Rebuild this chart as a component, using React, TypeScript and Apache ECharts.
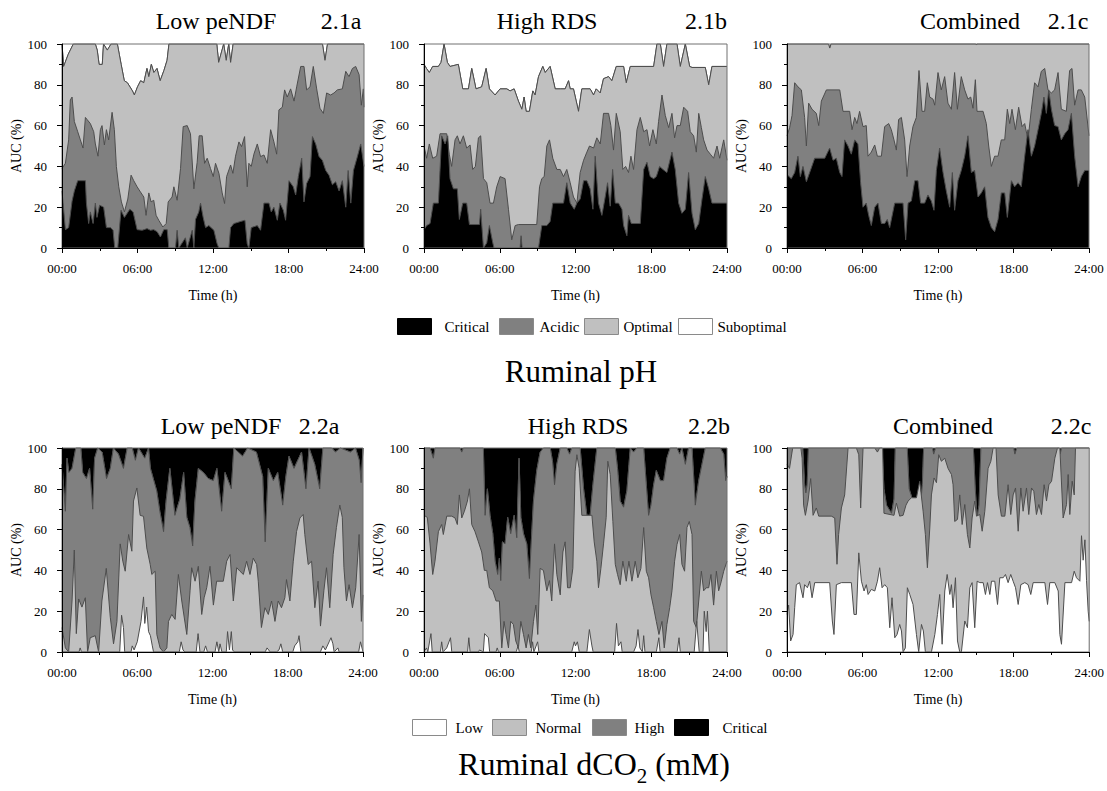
import React, { useEffect, useRef } from 'react';
import * as echarts from 'echarts';

const FONT = "'Liberation Serif', 'Times New Roman', serif";

// ---------- tick labels ----------
const timeTickLabels = ['00:00', '06:00', '12:00', '18:00', '24:00'];

// ---------- Ruminal pH: upper edge (cumulative AUC %) of each stacked class, [hour, %] ----------
const ph_lowPeNDF_critical = [[0,28],[0.27,9],[0.53,10],[0.8,23],[0.98,28],[1.25,33],[1.86,33],[1.94,22],[2.12,12],[2.25,17.7],[2.47,12],[2.65,22],[2.78,15],[2.99,21],[3.31,20],[3.53,10],[3.85,10],[4.06,8.7],[4.19,0],[4.43,0],[4.69,18.5],[4.96,15],[5.39,19],[5.65,17.7],[5.97,9],[6.37,8.7],[6.76,9.5],[7.03,8.7],[7.29,9],[7.56,8],[7.82,5.4],[8.09,9],[8.36,9],[8.49,0],[9.02,0],[9.15,8.7],[9.28,0],[9.81,5],[9.95,0],[10.35,8.7],[10.48,0],[10.61,14],[10.87,17.7],[11.01,22],[11.22,15],[11.41,10],[11.67,11],[12.07,8.7],[12.33,2],[12.47,0],[13.26,0],[13.4,10],[13.66,12],[14.19,13],[14.54,13.6],[14.72,2],[14.85,0],[15.04,10],[15.52,11],[15.78,8.7],[16.05,22],[16.45,22],[16.63,17.7],[16.84,20],[17.11,13.6],[17.32,22],[17.59,18.5],[17.77,13.6],[18.04,33],[18.38,30],[18.57,26],[18.78,35],[19.05,44],[19.23,22.6],[19.44,31.6],[19.71,35],[19.9,54.6],[20.16,51],[20.43,44.8],[20.69,43],[20.96,38],[21.22,35.7],[21.49,31],[21.75,32.5],[22.02,28],[22.28,33],[22.55,20],[22.74,38],[22.95,22],[23.16,38],[23.48,45],[23.74,51],[24,40]];
const ph_lowPeNDF_acidic = [[0,39],[0.27,41.5],[0.53,53],[0.66,72.6],[0.8,74],[0.98,62],[1.25,57],[1.46,53],[1.67,49],[1.86,64],[1.99,63],[2.25,61],[2.52,57],[2.65,51],[2.86,45],[3.05,58],[3.18,60],[3.37,50.5],[3.53,58],[3.71,53],[3.98,66.5],[4.16,58],[4.32,40],[4.51,30],[4.72,22.6],[4.96,17.7],[5.23,24],[5.49,35.7],[5.7,33],[5.97,30],[6.23,27.5],[6.5,25],[6.68,16],[6.9,27],[7.08,22.6],[7.29,23.4],[7.48,16],[7.69,13.6],[8.01,10.3],[8.28,12],[8.44,22.6],[8.75,25],[8.89,30],[9.15,23.4],[9.42,39],[9.63,59.5],[9.95,60],[10.21,56],[10.48,29],[10.74,42],[10.9,55],[11.14,55],[11.33,41.5],[11.54,44],[11.8,39],[12.02,35],[12.2,41.5],[12.47,36.6],[12.73,27],[12.92,21.8],[13.08,35],[13.4,40.7],[13.58,36.6],[13.79,45],[14.06,52],[14.27,49.7],[14.51,54.6],[14.72,30],[14.85,41.5],[15.04,40],[15.25,46],[15.52,51],[15.78,44.8],[16.05,45.6],[16.31,41.5],[16.58,58],[16.84,52],[17.06,46],[17.24,67.7],[17.51,69],[17.69,77.5],[17.9,74],[18.17,78],[18.44,72],[18.65,79],[18.97,89],[19.23,89],[19.44,77.5],[19.71,79],[19.97,89],[20.24,78],[20.5,68.5],[20.77,66],[21.03,76],[21.35,75],[21.62,76],[21.88,77.5],[22.28,78],[22.55,86.6],[22.81,84],[23.08,88],[23.34,89],[23.61,85],[23.79,70],[23.95,78],[24,69]];
const ph_lowPeNDF_optimal = [[0,100],[0.13,89],[0.5,95],[0.9,100],[2.65,100],[2.8,97],[2.95,90],[3.2,90],[3.3,100],[3.6,97],[3.9,100],[4.4,100],[4.55,95],[4.7,90],[4.95,82],[5.2,81],[5.6,77],[5.75,75],[6.0,79],[6.25,82],[6.5,81],[6.75,88],[6.9,84],[7.1,90],[7.3,86],[7.55,88],[7.8,82],[8.1,87],[8.35,92],[8.5,100],[12.3,100],[12.45,91],[12.85,100],[13.05,92],[13.25,100],[13.4,91],[13.6,100],[20.7,100],[20.9,92],[21.1,100],[24,100]];

const ph_highRDS_critical = [[0,9],[0.21,11],[0.48,12],[0.74,22],[1.14,22],[1.4,55],[1.67,51],[1.88,55],[2.06,34],[2.33,29],[2.64,29],[2.8,14],[3.07,22],[3.38,22],[3.6,11.5],[4.39,11.5],[4.49,19],[4.71,0],[4.97,2.5],[5.18,11],[5.45,2.5],[5.55,0],[7.61,0],[7.69,6],[7.77,0],[9.07,0],[9.33,11],[9.73,11],[9.99,13],[10.2,22],[11.05,22],[11.31,32],[11.58,22],[11.9,19],[12.11,22],[12.37,24],[12.64,33],[12.9,33],[13.16,29],[13.38,19],[13.56,45],[13.82,22],[14.09,16],[14.35,25],[14.54,32],[14.75,20.5],[14.94,38.5],[15.15,22],[15.41,22],[15.68,19],[15.81,11],[16.07,6],[16.2,16],[16.42,12],[17.13,12],[17.4,38.5],[17.66,42],[17.92,35],[18.19,34],[18.4,35],[18.66,40],[18.93,38.5],[19.24,37],[19.64,47],[19.9,38.5],[20.17,22],[20.43,17],[20.7,19],[20.96,37],[21.23,17],[21.49,9],[21.76,12],[22.02,24],[22.28,35],[22.55,29],[22.81,22],[24,22]];
const ph_highRDS_acidic = [[0,50],[0.21,44],[0.42,51],[0.69,44],[1.0,45],[1.27,56],[1.8,56],[2.0,46],[2.19,40],[2.46,53],[2.64,55],[2.85,51],[3.12,55],[3.38,49],[3.65,50.5],[3.86,38.5],[4.07,40],[4.31,54],[4.49,55],[4.71,34],[4.97,32],[5.23,22],[5.5,22],[5.76,30],[6.03,35],[6.42,34],[6.69,19],[6.95,4],[7.22,11],[7.48,11.5],[8.93,11.5],[9.15,30],[9.33,34],[9.52,35],[9.73,50],[9.94,53],[10.2,44],[10.52,38.5],[10.79,38.5],[11.05,35],[11.31,38.5],[11.58,32],[11.84,25],[12.11,22],[12.37,37],[12.64,43],[12.9,47],[13.11,50],[13.43,49],[13.69,54],[13.96,51],[14.22,66],[14.62,66],[14.8,60],[15.01,48],[15.23,66],[15.54,57],[15.75,38.5],[15.97,40],[16.2,37],[16.39,45],[16.6,38.5],[16.87,58],[17.13,64],[17.4,57],[17.66,58],[17.87,50],[18.13,58],[18.4,51],[18.58,62],[18.85,75],[19.11,65],[19.38,59],[19.64,66],[19.85,54],[20.04,60],[20.3,60],[20.57,69],[20.88,67],[21.09,57],[21.36,55],[21.57,47],[21.76,66],[21.97,59],[22.15,53],[22.42,48],[22.68,46],[22.94,44],[23.21,50],[23.42,44],[23.74,53],[24,43]];
const ph_highRDS_optimal = [[0,90],[0.2,88],[0.42,86],[0.69,89],[1.14,89],[1.35,91],[1.59,100],[1.85,91],[2.06,89],[2.72,90],[3.07,78],[3.52,78],[3.78,88],[4.12,78],[4.57,79],[4.92,88],[5.18,78],[5.63,75],[6.03,78],[6.56,78],[6.82,77],[7.14,78],[7.48,72],[7.75,68],[7.93,74],[8.09,67],[8.35,67],[8.62,77],[8.8,75],[9.07,84],[9.41,89],[9.6,86],[9.99,89],[10.39,78],[10.79,78],[11.18,78],[11.45,82],[11.58,78],[11.84,78],[12.24,67],[12.5,78],[13.16,78],[13.43,75],[13.64,78],[13.96,76],[14.22,83],[14.62,84],[14.88,82],[15.23,89],[15.81,89],[16.02,81],[16.34,89],[18.19,89],[18.45,100],[18.72,100],[18.98,89],[19.24,100],[20.04,100],[20.3,89],[20.7,100],[21.04,89],[21.23,88.5],[22.28,88.5],[22.55,80],[22.81,89],[24,89]];

const ph_combined_critical = [[0,36],[0.34,34],[0.61,37],[0.87,45],[1.06,35],[1.27,40],[1.54,32.5],[1.8,37],[2.2,44],[3.0,44],[3.39,49],[3.66,43],[3.92,44],[4.19,37],[4.37,35],[4.58,53],[4.85,50],[5.11,46],[5.38,53],[5.64,51],[5.85,32],[6.04,20],[6.3,22],[6.49,16],[6.7,11],[6.97,20],[7.23,22],[7.5,12],[7.76,12],[7.97,14],[8.16,10],[8.56,22],[9.22,22],[9.43,4],[9.62,22],[9.88,23],[10.15,33],[10.41,33],[10.62,22],[10.94,22],[11.2,26],[11.47,23],[11.68,18.5],[11.87,38],[12.13,49],[12.4,37],[12.66,28],[12.93,20],[13.14,37],[13.32,18.5],[13.59,33],[13.85,38],[14.12,45],[14.38,55],[14.65,37],[14.91,38],[15.18,25],[15.44,27],[15.71,30],[15.97,15],[16.24,10],[16.5,8],[16.77,14],[17.03,27],[17.3,27],[17.51,15],[17.83,33],[18.09,30],[18.36,32],[18.62,30],[18.89,45],[19.15,58],[19.42,45],[19.68,50],[19.95,58],[20.21,66],[20.42,74],[20.61,66],[20.8,77.5],[21.01,68],[21.27,60],[21.54,59.5],[21.8,53],[22.07,56],[22.33,58],[22.6,66],[22.86,45],[23.13,30],[23.39,35],[23.66,38],[24,38]];
const ph_combined_acidic = [[0,55],[0.21,59],[0.4,65],[0.61,81],[0.87,79],[1.14,77.5],[1.4,64],[1.54,50],[1.72,71],[1.99,68],[2.33,66],[2.52,60],[2.73,72],[3.13,77.5],[4.19,77.5],[4.45,67],[4.98,67],[5.17,58],[5.38,64],[5.56,61],[5.77,67],[6.04,59.5],[6.3,60],[6.44,45],[6.7,47],[6.97,50.5],[7.18,45],[7.5,45],[7.76,59.5],[8.08,61],[8.29,58],[8.5,53],[8.69,48],[8.87,63],[9.09,64],[9.35,53],[9.54,35],[9.75,50],[10.01,59.5],[10.28,64],[10.49,87],[10.73,67],[10.94,67],[11.15,81],[11.34,74],[11.6,73],[11.74,70],[12.0,86],[12.26,77.5],[12.53,84],[12.79,71],[13.06,68],[13.32,86],[13.54,68],[13.85,84],[14.12,77.5],[14.38,73],[14.6,74],[14.78,68.5],[14.97,82.5],[15.1,67],[15.58,67],[15.84,61],[16.03,50],[16.24,40],[16.5,45],[16.77,45],[17.03,53],[17.3,53],[17.51,68],[17.7,61],[17.88,68],[18.15,58],[18.41,69],[18.68,59.5],[18.89,61],[19.15,53],[19.42,68],[19.68,81],[19.95,79],[20.21,86.6],[20.48,88],[20.74,77.5],[21.01,76],[21.27,77.5],[21.54,86],[21.8,68],[22.2,67],[22.46,87],[22.65,88],[22.86,70],[23.13,77.5],[23.39,77.5],[23.66,74],[24,55]];
const ph_combined_optimal = [[0,100],[3.3,100],[3.4,98],[3.5,100],[15.0,100],[15.05,99.5],[15.1,100],[24,100]];

// ---------- Ruminal dCO2: upper edge (cumulative AUC %) of each stacked class, [hour, %] ----------
const co2_lowPeNDF_low = [[0,0],[1.35,0],[1.45,2],[1.55,0],[4.6,0],[4.75,18],[4.9,12],[5.0,0],[5.5,0],[5.6,3],[5.75,1],[6.0,5],[6.3,15],[6.5,27],[6.6,14],[6.75,22],[6.9,10],[7.05,8],[7.2,3],[7.3,0],[9.35,0],[9.5,5],[9.65,1],[9.8,0],[10.7,0],[10.85,9],[11.0,0],[11.3,0],[11.45,3],[11.6,0],[12.2,0],[12.35,5],[12.5,0],[12.6,4],[12.75,0],[13.1,0],[13.2,10],[13.35,1],[13.5,10],[13.6,1],[13.75,0],[16.2,0],[16.35,2],[16.6,0],[17.1,0],[17.3,1],[17.45,4],[17.6,0],[18.4,0],[18.55,3],[18.8,5],[18.9,8],[19.05,0],[20.6,0],[20.8,3],[21.0,1],[21.3,5],[21.45,7],[21.6,4],[21.7,0],[22.0,2],[22.1,0],[23.65,0],[23.8,5],[24,0]];
const co2_lowPeNDF_normal = [[0,12],[0.27,2],[0.53,0],[0.8,25],[0.98,50],[1.14,9],[1.33,26],[1.59,22],[1.86,26.6],[2.04,0],[2.25,7],[2.65,8],[2.92,0],[3.18,25],[3.53,41],[3.85,17],[4.11,4],[4.38,15],[4.64,53],[4.85,44.5],[5.04,39.6],[5.31,57.6],[5.57,49.4],[5.7,74],[5.97,80.4],[6.23,67],[6.5,66.5],[6.76,51],[7.03,43],[7.16,38],[7.43,39.6],[7.56,8.6],[7.82,2],[8.09,0],[8.36,2],[8.49,15],[8.75,18.4],[9.02,16],[9.28,38],[9.55,25],[9.95,8.6],[10.21,30],[10.34,41.3],[10.61,34.7],[10.87,42],[11.14,18.4],[11.33,26.6],[11.54,31.5],[11.8,42],[12.07,23],[12.33,34.7],[12.6,34.7],[12.86,34.7],[13.13,44.5],[13.4,47.8],[13.66,25],[13.93,41.3],[14.19,39.6],[14.46,38],[14.72,44.5],[14.99,38],[15.25,46],[15.52,42.9],[15.65,34.7],[15.9,12],[16.18,21.7],[16.45,18.4],[16.71,25],[16.98,15],[17.24,25],[17.5,21.7],[17.77,26.6],[17.9,35.5],[18.17,25],[18.44,44.5],[18.7,59],[18.97,65.7],[19.1,66.5],[19.23,67.4],[19.36,57.6],[19.63,42.9],[19.9,44.5],[20.16,21.7],[20.42,34.7],[20.61,12.7],[20.88,30],[21.09,41.3],[21.35,21.7],[21.62,47.8],[21.88,61],[22.15,72],[22.35,66],[22.48,41.3],[22.68,25],[22.89,33],[23.16,21.7],[23.42,31.5],[23.69,57.6],[23.87,15],[24,28]];
const co2_lowPeNDF_high = [[0,92],[0.27,69],[0.4,95],[0.55,88],[0.8,90],[1.1,100],[1.5,100],[1.65,88],[1.95,85],[2.2,90],[2.45,70],[2.6,95],[2.85,100],[3.2,98],[3.55,85],[3.85,90],[4.1,100],[4.5,97],[4.9,90],[5.2,100],[5.6,100],[5.85,94],[6.1,100],[6.6,95],[6.9,100],[7.05,90],[7.55,79],[7.8,69],[8.1,59],[8.3,74],[8.6,90],[9.0,67],[9.4,75],[9.7,88],[9.95,66],[10.2,61],[10.42,52],[10.6,74],[10.87,90],[11.27,88],[11.67,85],[12.07,84],[12.35,90],[12.73,69],[13.0,88],[13.5,80],[13.7,100],[14.4,96],[14.8,100],[15.5,98],[16.0,86],[16.2,54],[16.45,90],[16.85,84],[17.2,88],[17.6,72],[17.85,86],[18.1,96],[18.5,90],[19.1,98],[19.45,80],[19.7,100],[20.15,92],[20.55,80],[20.8,100],[21.5,100],[21.8,98],[22.2,100],[23.0,98],[23.4,100],[23.7,94],[23.85,83],[24,100]];

const co2_highRDS_low = [[0,0],[0.2,2],[0.3,0],[0.55,9],[0.65,0],[1.3,0],[1.4,5],[1.5,0],[1.8,2],[2.1,7],[2.2,0],[3.45,0],[3.55,7],[3.65,0],[4.3,0],[4.4,1],[4.7,0],[4.8,9],[5.1,7],[5.2,0],[5.7,0],[5.8,2],[5.9,0],[7.3,0],[7.45,3],[7.55,0],[8.5,0],[8.6,5],[8.7,0],[9.0,5],[9.1,0],[11.7,0],[11.9,5],[12.0,3],[12.15,5],[12.3,0],[12.9,0],[13.1,11],[13.3,3],[13.4,0],[15.1,0],[15.25,14],[15.4,3],[15.6,5],[15.7,0],[16.6,0],[16.8,3],[16.95,11],[17.1,2],[17.3,0],[17.4,8],[17.5,0],[18.4,0],[18.6,7],[18.7,0],[20.05,0],[20.2,7],[20.3,0],[21.4,0],[21.6,15],[21.8,0],[22.1,0],[22.2,20],[22.35,10],[22.45,20],[22.6,0],[24,0]];
const co2_highRDS_normal = [[0,67],[0.26,66],[0.48,53],[0.69,38],[0.87,44.5],[1.14,59],[1.4,62.5],[1.53,57.6],[1.8,66.6],[2.19,66.6],[2.46,65.7],[2.64,62.5],[2.8,77],[2.99,65.7],[3.2,69],[3.44,74],[3.6,80],[3.78,62.5],[4.04,59],[4.31,54],[4.57,49],[4.78,40],[4.97,40],[5.18,31.5],[5.45,30],[5.71,25],[5.97,25],[6.16,2],[6.34,15],[6.5,8.6],[6.69,2],[6.87,15],[7.08,13.5],[7.27,5.4],[7.48,2],[7.67,15],[7.88,8.6],[8.09,2],[8.27,8.6],[8.46,2],[8.67,15],[8.86,23],[9.01,8.6],[9.2,41],[9.46,40],[9.73,30],[9.94,35],[10.12,25],[10.34,53],[10.52,38],[10.79,28],[11.0,49],[11.18,54],[11.37,31.5],[11.58,31.5],[11.79,41],[11.97,88.6],[12.11,96.7],[12.29,90],[12.5,67],[13.3,67],[13.48,54],[13.69,44.5],[13.82,31.5],[14.01,41],[14.22,53],[14.43,66],[14.56,93.5],[14.75,87],[14.96,64],[15.15,43],[15.33,38],[15.54,33],[15.75,44.5],[16.02,34.7],[16.23,44.5],[16.47,34.7],[16.73,44.5],[16.94,36.4],[17.18,41],[17.4,61],[17.61,39.6],[17.79,36.4],[17.98,28],[18.19,21.7],[18.4,15],[18.61,8.6],[18.85,15],[19.03,2],[19.24,13.5],[19.46,21.7],[19.64,30],[19.85,44.5],[20.04,52.7],[20.25,57.6],[20.43,43],[20.64,39.6],[20.83,61],[21.01,64],[21.23,57.6],[21.36,15],[21.57,12],[21.76,25],[21.97,39.6],[22.15,30],[22.36,31.5],[22.55,31.5],[22.73,38],[22.94,23],[23.16,39.6],[23.34,30],[23.55,34.7],[23.74,39.6],[24,44.5]];
const co2_highRDS_high = [[0,100],[0.48,100],[0.74,95],[0.87,100],[2.85,100],[2.99,98],[3.12,100],[4.7,100],[4.84,67],[5.02,80],[5.23,67],[5.45,58],[5.63,44.5],[5.84,38],[5.97,46],[6.08,35],[6.21,54],[6.42,53],[6.63,66],[6.87,58],[7.14,67],[7.35,56],[7.53,95],[7.67,66],[7.88,58],[8.14,53],[8.35,36],[8.54,59],[8.67,74],[8.93,89],[9.2,98],[9.46,100],[10.0,100],[10.18,93.5],[10.34,82],[10.52,92],[10.79,100],[11.31,100],[11.53,97],[11.71,100],[12.37,100],[12.64,80],[12.9,67],[13.16,67],[13.38,82],[13.69,100],[15.15,100],[15.33,90],[15.54,74],[15.81,71],[16.07,79],[16.34,100],[16.6,98],[16.87,100],[17.4,100],[17.61,82],[17.79,67],[17.98,72],[18.19,82],[18.4,89],[18.72,84],[18.98,84],[19.24,95],[19.5,100],[20.04,100],[20.25,97],[20.43,100],[20.7,92],[20.96,100],[21.23,100],[21.49,72],[21.76,84],[22.02,92],[22.28,100],[23.47,100],[23.74,97],[23.9,84],[24,86]];

const co2_combined_low = [[0,18.4],[0.13,23],[0.29,5.4],[0.48,8.6],[0.61,21.7],[0.74,33],[1.0,34],[1.27,26.6],[1.4,33],[1.62,31.5],[1.8,34.7],[1.99,26.6],[2.2,34],[3.39,34],[3.6,15.2],[3.73,8.6],[3.92,33],[4.32,34],[5.11,34],[5.32,18.4],[5.51,18.4],[5.7,48.6],[5.91,34.7],[6.12,29.9],[6.3,33],[6.44,28.2],[6.7,30.7],[6.97,29.9],[7.18,34.7],[7.36,41.3],[7.55,31.5],[7.76,33],[7.97,31.5],[8.16,11.9],[8.34,26.6],[8.56,7],[8.74,8.6],[8.95,13.5],[9.09,10.3],[9.22,0],[9.4,2],[9.56,31.5],[9.75,28.2],[10.01,23.3],[10.28,8.6],[10.46,0],[10.68,13.5],[10.83,10.3],[10.99,0],[11.47,0],[11.74,8.6],[11.95,18.4],[12.13,28.2],[12.32,3.8],[12.53,29.9],[12.72,38],[12.93,28.2],[13.06,33],[13.19,21.7],[13.38,36.4],[13.54,5.4],[13.72,0],[13.85,0],[14.12,15.2],[14.33,11.9],[14.52,31.5],[14.7,34],[14.91,11.9],[15.1,34.7],[15.31,34],[15.58,34],[15.76,28.2],[15.92,34],[16.11,28.2],[16.24,34.7],[16.5,34.7],[16.72,23.3],[16.9,36.4],[17.17,36.4],[17.35,38],[17.56,34],[17.77,38],[17.96,34.7],[18.15,31.5],[18.36,23.3],[18.57,33],[18.89,34],[19.15,33],[19.36,28.2],[19.55,34],[20.48,34],[20.69,23.3],[20.87,34],[21.27,34],[21.54,29.9],[21.67,8.6],[21.8,3.8],[22.07,34],[22.6,34],[22.81,39.6],[22.99,36.4],[23.26,34.7],[23.39,57],[23.52,45],[23.66,55],[23.79,35],[23.92,20],[24,15]];
const co2_combined_normal = [[0,92],[0.2,90],[0.45,100],[1.1,100],[1.2,95],[1.32,72],[1.46,67],[1.67,74],[1.88,85],[2.07,67],[2.33,70.6],[2.52,66.6],[3.52,66.6],[3.79,65.7],[3.97,43],[4.1,57.6],[4.32,70.6],[4.58,77],[4.85,100],[5.51,100],[5.7,96.7],[5.85,70.6],[6.04,100],[6.97,100],[7.18,98],[7.36,100],[7.6,100],[7.7,68],[8.5,67],[8.69,73],[8.95,66.6],[9.22,67],[9.45,72],[9.62,74],[9.88,75.6],[10.28,75.6],[10.54,83.7],[10.81,69],[10.99,57.6],[11.15,41.3],[11.34,60.8],[11.47,77],[11.68,85.3],[11.87,83],[12.05,96.7],[12.26,93.5],[12.53,95],[12.79,90],[13.06,87],[13.19,82],[13.32,64],[13.54,65],[13.72,77],[13.91,62.5],[14.12,72.3],[14.33,57.6],[14.52,51],[14.7,65.7],[14.91,74],[15.05,66.6],[15.31,67.4],[15.5,59.2],[15.71,69],[15.97,90],[16.19,93.5],[16.37,100],[16.6,100],[16.77,77],[17.03,66.6],[17.3,66.6],[17.56,82],[17.77,67.4],[17.96,77],[18.15,80.4],[18.36,59.2],[18.57,80.4],[18.75,69],[19.02,80.4],[19.2,67.4],[19.42,80.4],[19.6,78.8],[19.81,67.4],[20.0,72.3],[20.21,67.4],[20.42,82],[20.61,74],[20.8,82],[21.01,83.7],[21.27,95],[21.48,100],[21.67,100],[21.93,65.7],[22.2,72.3],[22.33,87],[22.46,67.4],[22.65,83.7],[22.81,77],[22.91,100],[24,100]];
const co2_combined_high = [[0,100],[1.25,100],[1.4,82],[1.5,78],[1.6,82],[1.7,100],[7.55,100],[7.7,80],[7.9,72],[8.1,70],[8.3,68],[8.5,75],[8.6,100],[9.55,100],[9.7,80],[9.95,75],[10.4,75],[10.6,72],[10.75,82],[10.85,100],[11.55,100],[11.65,97],[11.8,100],[14.8,100],[14.95,80],[15.1,66],[15.25,72],[15.4,100],[18.0,100],[18.1,97],[18.25,100],[21.6,100],[21.7,97],[21.8,100],[24,100]];

// ---------- texts ----------
const panelTitles = ['Low peNDF', 'High RDS', 'Combined', 'Low peNDF', 'High RDS', 'Combined'];
const panelTags = ['2.1a', '2.1b', '2.1c', '2.2a', '2.2b', '2.2c'];
const phClasses = ['Critical', 'Acidic', 'Optimal', 'Suboptimal'];
const co2Classes = ['Low', 'Normal', 'High', 'Critical'];

const C_BLACK = '#000000';
const C_DARK = '#808080';
const C_LIGHT = '#c0c0c0';
const C_WHITE = '#ffffff';
const EDGE = '#4d4d4d';

type Pts = number[][];

const panels = [
  { kind: 'ph', edges: [ph_lowPeNDF_critical, ph_lowPeNDF_acidic, ph_lowPeNDF_optimal], grid: { left: 62, top: 44, width: 302, height: 204 }, title: [216, 21], tag: [341, 21] },
  { kind: 'ph', edges: [ph_highRDS_critical, ph_highRDS_acidic, ph_highRDS_optimal], grid: { left: 424, top: 44, width: 303, height: 204 }, title: [547, 21], tag: [706, 21] },
  { kind: 'ph', edges: [ph_combined_critical, ph_combined_acidic, ph_combined_optimal], grid: { left: 787, top: 44, width: 302, height: 204 }, title: [970, 21], tag: [1068, 21] },
  { kind: 'co2', edges: [co2_lowPeNDF_low, co2_lowPeNDF_normal, co2_lowPeNDF_high], grid: { left: 62, top: 448, width: 301, height: 204 }, title: [221, 426], tag: [319, 426] },
  { kind: 'co2', edges: [co2_highRDS_low, co2_highRDS_normal, co2_highRDS_high], grid: { left: 424, top: 448, width: 303, height: 204 }, title: [578, 426], tag: [709, 426] },
  { kind: 'co2', edges: [co2_combined_low, co2_combined_normal, co2_combined_high], grid: { left: 787, top: 448, width: 303, height: 204 }, title: [943, 426], tag: [1071, 426] },
];

function areaSeries(name: string, data: Pts, idx: number, color: string, origin: 'start' | 'end', z: number) {
  return {
    type: 'line',
    name,
    xAxisIndex: idx,
    yAxisIndex: idx,
    data,
    color,
    symbol: 'none',
    silent: true,
    z,
    lineStyle: { color: EDGE, width: 1 },
    areaStyle: { color, opacity: 1, origin },
  };
}

function buildOption() {
  const grid: any[] = [];
  const xAxis: any[] = [];
  const yAxis: any[] = [];
  const series: any[] = [];
  const graphic: any[] = [];

  panels.forEach((p, i) => {
    grid.push({ ...p.grid, show: true, borderColor: '#707070', borderWidth: 1, backgroundColor: 'transparent', z: 5 });
    xAxis.push({
      gridIndex: i, type: 'value', min: 0, max: 24, interval: 6, z: 10,
      axisLine: { show: true, onZero: false, lineStyle: { color: '#000', width: 1 } },
      axisTick: { show: true, length: 5, lineStyle: { color: '#000' } },
      minorTick: { show: true, splitNumber: 2, length: 3, lineStyle: { color: '#000' } },
      splitLine: { show: false },
      axisLabel: { formatter: (v: number) => timeTickLabels[Math.round(v / 6)], fontSize: 13, fontFamily: FONT, color: '#000', margin: 14 },
      name: 'Time (h)', nameLocation: 'middle', nameGap: 40,
      nameTextStyle: { fontSize: 14, fontFamily: FONT, color: '#000' },
    });
    yAxis.push({
      gridIndex: i, type: 'value', min: 0, max: 100, interval: 20, z: 10,
      axisLine: { show: true, onZero: false, lineStyle: { color: '#000', width: 1 } },
      axisTick: { show: true, length: 5, lineStyle: { color: '#000' } },
      minorTick: { show: true, splitNumber: 2, length: 3, lineStyle: { color: '#000' } },
      splitLine: { show: false },
      axisLabel: { fontSize: 13, fontFamily: FONT, color: '#000', margin: 15 },
      name: 'AUC (%)', nameLocation: 'middle', nameGap: 36,
      nameTextStyle: { fontSize: 14, fontFamily: FONT, color: '#000' },
    });

    if (p.kind === 'ph') {
      const [crit, acid, opt] = p.edges;
      series.push(areaSeries('Suboptimal', opt, i, C_WHITE, 'end', 1));
      series.push(areaSeries('Optimal', opt, i, C_LIGHT, 'start', 2));
      series.push(areaSeries('Acidic', acid, i, C_DARK, 'start', 3));
      series.push(areaSeries('Critical', crit, i, C_BLACK, 'start', 4));
    } else {
      const [low, normal, high] = p.edges;
      series.push(areaSeries('Critical', high, i, C_BLACK, 'end', 1));
      series.push(areaSeries('High', high, i, C_DARK, 'start', 2));
      series.push(areaSeries('Normal', normal, i, C_LIGHT, 'start', 3));
      series.push(areaSeries('Low', low, i, C_WHITE, 'start', 4));
    }

    graphic.push({ type: 'text', x: p.title[0], y: p.title[1], style: { text: panelTitles[i], fontSize: 24, fontFamily: FONT, fill: '#000', align: 'center', verticalAlign: 'middle' } });
    graphic.push({ type: 'text', x: p.tag[0], y: p.tag[1], style: { text: panelTags[i], fontSize: 24, fontFamily: FONT, fill: '#000', align: 'center', verticalAlign: 'middle' } });
  });

  graphic.push({ type: 'text', x: 581, y: 371, style: { text: 'Ruminal pH', fontSize: 31, fontFamily: FONT, fill: '#000', align: 'center', verticalAlign: 'middle' } });
  graphic.push({
    type: 'text', x: 594, y: 769,
    style: {
      text: '{a|Ruminal dCO}{s|2}{a| (mM)}', align: 'center', verticalAlign: 'middle', fill: '#000',
      rich: {
        a: { fontSize: 32, lineHeight: 34, fontFamily: FONT, fill: '#000', verticalAlign: 'bottom', padding: [0, 0, 6, 0] },
        s: { fontSize: 21, lineHeight: 22, fontFamily: FONT, fill: '#000', verticalAlign: 'bottom' },
      },
    },
  });

  const fills: Record<string, string> = { Critical: C_BLACK, Acidic: C_DARK, Optimal: C_LIGHT, Suboptimal: C_WHITE, Low: C_WHITE, Normal: C_LIGHT, High: C_DARK };
  const legendItem = (name: string, left: number, top: number, textPad: number) => ({
    data: [{ name, icon: 'rect', itemStyle: { color: fills[name], borderColor: name === 'Critical' ? '#000' : '#8a8a8a', borderWidth: 1 } }],
    left, top, padding: 0, itemWidth: 34, itemHeight: 16, selectedMode: false, icon: 'rect',
    lineStyle: { width: 0 },
    textStyle: { fontSize: 15, fontFamily: FONT, color: '#000', padding: [0, 0, 0, textPad] },
  });
  const legend = [
    legendItem(phClasses[0], 397, 318, 8),
    legendItem(phClasses[1], 499, 318, 1),
    legendItem(phClasses[2], 584, 318, 0),
    legendItem(phClasses[3], 678, 318, 0),
    legendItem(co2Classes[0], 412, 719, 4),
    legendItem(co2Classes[1], 492, 719, 4),
    legendItem(co2Classes[2], 592, 719, 3),
    legendItem(co2Classes[3], 674, 719, 9),
  ];

  return { animation: false, backgroundColor: '#fff', grid, xAxis, yAxis, series, graphic, legend };
}

export default function App() {
  const ref = useRef<HTMLDivElement>(null);
  useEffect(() => {
    if (!ref.current) return;
    const chart = echarts.init(ref.current, null, { renderer: 'svg' });
    chart.setOption(buildOption() as any);
    return () => chart.dispose();
  }, []);
  return <div ref={ref} style={{ position: 'absolute', left: 0, top: 0, width: 1107, height: 791, background: '#fff' }} />;
}
